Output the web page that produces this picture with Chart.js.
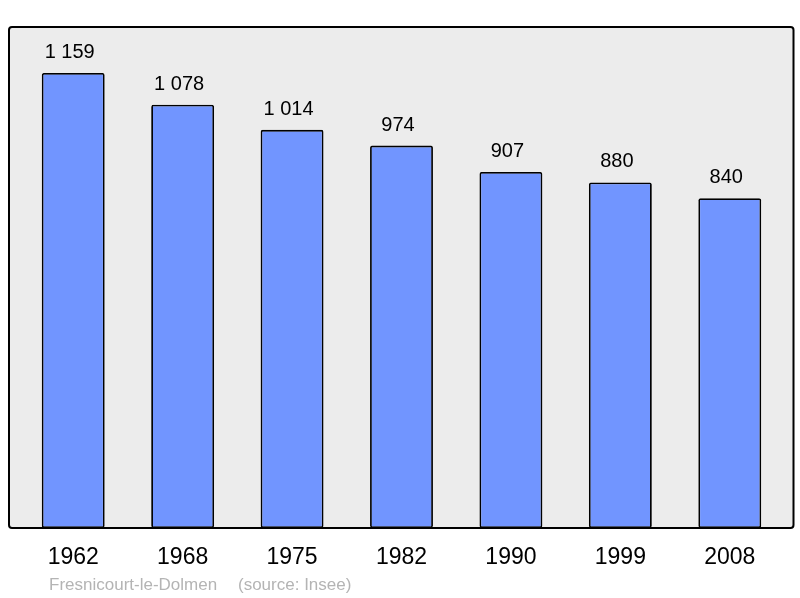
<!DOCTYPE html>
<html>
<head>
<meta charset="utf-8">
<script src="https://cdn.jsdelivr.net/npm/chart.js@4/dist/chart.umd.min.js"></script>
<style>
html,body{margin:0;padding:0;background:#fff;}
canvas{display:block;}
</style>
</head>
<body>
<canvas id="c" width="800" height="598"></canvas>
<script>
const years = ["1962", "1968", "1975", "1982", "1990", "1999", "2008"];
const population = [1159, 1078, 1014, 974, 907, 880, 840];
const sourceText = ["Fresnicourt-le-Dolmen", "(source: Insee)"];

function fmt(v) {
  return String(v).replace(/\B(?=(\d{3})+(?!\d))/g, " ");
}

const boxPlugin = {
  id: 'box',
  beforeDraw(chart) {
    const ctx = chart.ctx, a = chart.chartArea;
    const x0 = a.left - 9.5, x1 = a.right + 9, y0 = a.top, y1 = a.bottom;
    ctx.save();
    ctx.beginPath();
    if (ctx.roundRect) ctx.roundRect(x0, y0, x1 - x0, y1 - y0, 3);
    else ctx.rect(x0, y0, x1 - x0, y1 - y0);
    ctx.fillStyle = '#ececec';
    ctx.fill();
    ctx.restore();
  },
  afterDatasetsDraw(chart) {
    const ctx = chart.ctx, a = chart.chartArea;
    const x0 = a.left - 9.5, x1 = a.right + 9, y0 = a.top, y1 = a.bottom;
    ctx.save();
    ctx.beginPath();
    if (ctx.roundRect) ctx.roundRect(x0, y0, x1 - x0, y1 - y0, 3);
    else ctx.rect(x0, y0, x1 - x0, y1 - y0);
    ctx.lineWidth = 2;
    ctx.strokeStyle = '#000';
    ctx.stroke();
    // value labels
    const meta = chart.getDatasetMeta(0);
    ctx.fillStyle = '#000';
    ctx.font = '20px "Liberation Sans", Arial, sans-serif';
    ctx.textAlign = 'center';
    ctx.textBaseline = 'alphabetic';
    meta.data.forEach((bar, i) => {
      ctx.fillText(fmt(population[i]), bar.x - 3.5, bar.y - 15);
    });
    // source
    ctx.fillStyle = '#b4b4b4';
    ctx.font = '17px "Liberation Sans", Arial, sans-serif';
    ctx.textAlign = 'left';
    ctx.fillText(sourceText[0], 49, 590);
    ctx.fillText(sourceText[1], 238, 590);
    ctx.restore();
  }
};

new Chart(document.getElementById('c'), {
  type: 'bar',
  data: {
    labels: years,
    datasets: [{
      data: population,
      backgroundColor: '#7195ff',
      borderColor: '#000',
      borderWidth: 1.8,
      borderRadius: 2,
      borderSkipped: false,
      barPercentage: 0.575,
      categoryPercentage: 1.0
    }]
  },
  options: {
    responsive: false,
    animation: false,
    events: [],
    layout: { padding: { left: 18.5, right: 15.5, top: 27, bottom: 0 } },
    plugins: { legend: { display: false }, tooltip: { enabled: false } },
    scales: {
      x: {
        grid: { display: false, drawTicks: false },
        border: { display: false },
        ticks: {
          color: '#000',
          font: { family: '"Liberation Sans", Arial, sans-serif', size: 23 },
          padding: 16,
          maxRotation: 0
        },
        afterFit(scale) { scale.height = 70; }
      },
      y: {
        display: false,
        min: 0,
        max: 1276
      }
    }
  },
  plugins: [boxPlugin]
});
</script>
</body>
</html>
